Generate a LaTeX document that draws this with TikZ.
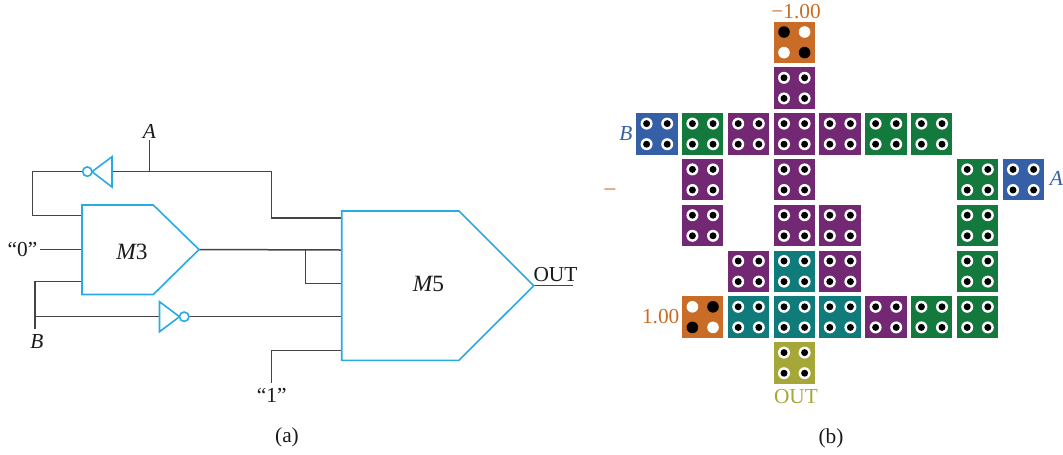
\documentclass[tikz,border=0pt]{standalone}
\usepackage{fontspec}
\setmainfont{Liberation Serif}
\definecolor{cOr}{HTML}{C96C27}
\definecolor{cPu}{HTML}{732873}
\definecolor{cBl}{HTML}{3560A8}
\definecolor{cGr}{HTML}{14793C}
\definecolor{cTe}{HTML}{0F7B7B}
\definecolor{cOl}{HTML}{A5A738}
\definecolor{cCy}{HTML}{29ABE2}
\definecolor{cWire}{HTML}{444444}
\definecolor{cTxt}{HTML}{1A1A1A}
\newcommand{\hs}{\fontsize{16}{19}\selectfont}
\newcommand{\cellat}[3]{% col, row, colour
  \pgfmathsetmacro{\cx}{636.3+45.8*#1+20.6}
  \pgfmathsetmacro{\cy}{21.7+45.8*#2+20.6}
  \node[cellbox,fill=#3] (c#1r#2) at (\cx,\cy) {};
  \foreach \dx in {-10.3,10.3}\foreach \dy in {-10.3,10.3}{
    \fill[white] (\cx+\dx,\cy+\dy) circle[radius=6];
    \fill[black] (\cx+\dx,\cy+\dy) circle[radius=3.5];
  }}
\newcommand{\signalcell}[7]{% col,row,then four hole fills
  \pgfmathsetmacro{\cx}{636.3+45.8*#1+20.6}
  \pgfmathsetmacro{\cy}{21.7+45.8*#2+20.6}
  \node[cellbox,fill=cOr] (c#1r#2) at (\cx,\cy) {};
  \fill[#3] (\cx-10.3,\cy-10.3) circle[radius=5.8];
  \fill[#4] (\cx+10.3,\cy-10.3) circle[radius=5.8];
  \fill[#5] (\cx-10.3,\cy+10.3) circle[radius=5.8];
  \fill[#6] (\cx+10.3,\cy+10.3) circle[radius=5.8];
}
\tikzset{
  cellbox/.style={draw=none,minimum width=41.3*0.75pt,minimum height=41.3*0.75pt,inner sep=0pt,outer sep=0pt},
  gateline/.style={draw=cCy,line width=1.6*0.75pt,line join=miter},
  wire/.style={draw=cWire,line width=1.5*0.75pt,line join=miter},
  lbl/.style={inner sep=0pt,text=cTxt,font=\hs},
  mlbl/.style={inner sep=0pt,text=cTxt,font=\fontsize{17.5}{20}\selectfont}
}
\begin{document}
\begin{tikzpicture}[x=0.75pt,y=-0.75pt]
\useasboundingbox (0,0) rectangle (1063,454);

% coordinates of the circuit
\coordinate (m3a) at (82,205);
\coordinate (m3b) at (153.3,205);
\coordinate (m3t) at (199,249.5);
\coordinate (m3c) at (153.3,294.5);
\coordinate (m3d) at (82,294.5);
\coordinate (m5a) at (341.7,211);
\coordinate (m5b) at (459,211);
\coordinate (m5t) at (533.7,285.7);
\coordinate (m5c) at (459,360.3);
\coordinate (m5d) at (341.7,360.3);
\coordinate (Aend) at (149.5,140);
\coordinate (Ajun) at (149.5,171.7);
\coordinate (topL) at (32.7,171.7);
\coordinate (topLd) at (32.7,215.3);
\coordinate (m3i1) at (82,215.3);
\coordinate (topR) at (271.7,171.7);
\coordinate (topRd) at (271.7,218);
\coordinate (m5i1) at (341,218);
\coordinate (zeroS) at (40,249.5);
\coordinate (m3i2) at (82,249.5);
\coordinate (m3i3) at (82,281.3);
\coordinate (Bup) at (35,281.3);
\coordinate (Bjun) at (35,316.7);
\coordinate (Bend) at (35,329.3);
\coordinate (m5i2) at (341,250);
\coordinate (brT) at (305.7,250);
\coordinate (brB) at (305.7,283.7);
\coordinate (m5i3) at (341,283.7);
\coordinate (m5i4) at (341,316.7);
\coordinate (oneC) at (271.7,350.3);
\coordinate (oneE) at (271.7,382.7);
\coordinate (m5i5) at (341,350.3);
\coordinate (outE) at (573,285.7);
% wires
\draw[wire] (Aend) -- (Ajun);
\draw[wire] (m3i1) -- (topLd) -- (topL) -- (topR) -- (topRd) -- (m5i1);
\draw[wire] (zeroS) -- (m3i2);
\draw[wire] (m3i3) -- (Bup) -- (Bend);
\draw[wire] (Bjun) -- (m5i4);
\draw[wire] (m3t) -- (m5i2);
\draw[wire] (brT) -- (brB) -- (m5i3);
\draw[wire] (oneE) -- (oneC) -- (m5i5);
\draw[wire] (m5t) -- (outE);
% gates
\draw[gateline,fill=white] (m3a) -- (m3b) -- (m3t) -- (m3c) -- (m3d) -- cycle;
\draw[gateline,fill=white] (m5a) -- (m5b) -- (m5t) -- (m5c) -- (m5d) -- cycle;
\draw[gateline,fill=white] (112,156.7) -- (112,187) -- (92,171.7) -- cycle;
\draw[gateline,fill=white] (87.3,171.6) circle[radius=4.7];
\draw[gateline,fill=white] (159.5,301.7) -- (159.5,331.7) -- (179.5,316.7) -- cycle;
\draw[gateline,fill=white] (184.2,316.7) circle[radius=4.7];
% labels of the circuit
\node[lbl] (lA) at (149.5,131.5) {\itshape A};
\node[lbl] (lB) at (37,341.5) {\itshape B};
\node[lbl] (l0) at (22.5,249.5) {“0”};
\node[lbl] (l1) at (271.7,395.5) {“1”};
\node[mlbl] (lM3) at (132,252) {\itshape M\upshape 3};
\node[mlbl] (lM5) at (428.5,284) {\itshape M\upshape 5};
\node[lbl] (lOut) at (555.5,274.5) {OUT};
\node[lbl] (la) at (287,437.5) {(a)};
\node[lbl] (lb) at (831,438.5) {(b)};

% QCA cells
\signalcell{3}{0}{black}{white}{white}{black}{}
\cellat{3}{1}{cPu}
\cellat{0}{2}{cBl}
\cellat{1}{2}{cGr}
\cellat{2}{2}{cPu}
\cellat{3}{2}{cPu}
\cellat{4}{2}{cPu}
\cellat{5}{2}{cGr}
\cellat{6}{2}{cGr}
\cellat{1}{3}{cPu}
\cellat{3}{3}{cPu}
\cellat{7}{3}{cGr}
\cellat{8}{3}{cBl}
\cellat{1}{4}{cPu}
\cellat{3}{4}{cPu}
\cellat{4}{4}{cPu}
\cellat{7}{4}{cGr}
\cellat{2}{5}{cPu}
\cellat{3}{5}{cTe}
\cellat{4}{5}{cPu}
\cellat{7}{5}{cGr}
\signalcell{1}{6}{white}{black}{black}{white}{}
\cellat{2}{6}{cTe}
\cellat{3}{6}{cTe}
\cellat{4}{6}{cTe}
\cellat{5}{6}{cPu}
\cellat{6}{6}{cGr}
\cellat{7}{6}{cGr}
\cellat{3}{7}{cOl}
% labels of the layout
\node[lbl,text=cOr] (lm1) at (796,11.5) {−1.00};
\node[lbl,text=cOr] (lp1) at (660.7,317) {1.00};
\node[lbl,text=cOl] (lo) at (796,397) {OUT};
\node[lbl,text=cBl] (lbB) at (626,134) {\itshape B};
\node[lbl,text=cBl] (lbA) at (1056.5,178) {\itshape A};
\node[lbl,text=cOr] (ldash) at (610,192) {–};
\end{tikzpicture}
\end{document}
